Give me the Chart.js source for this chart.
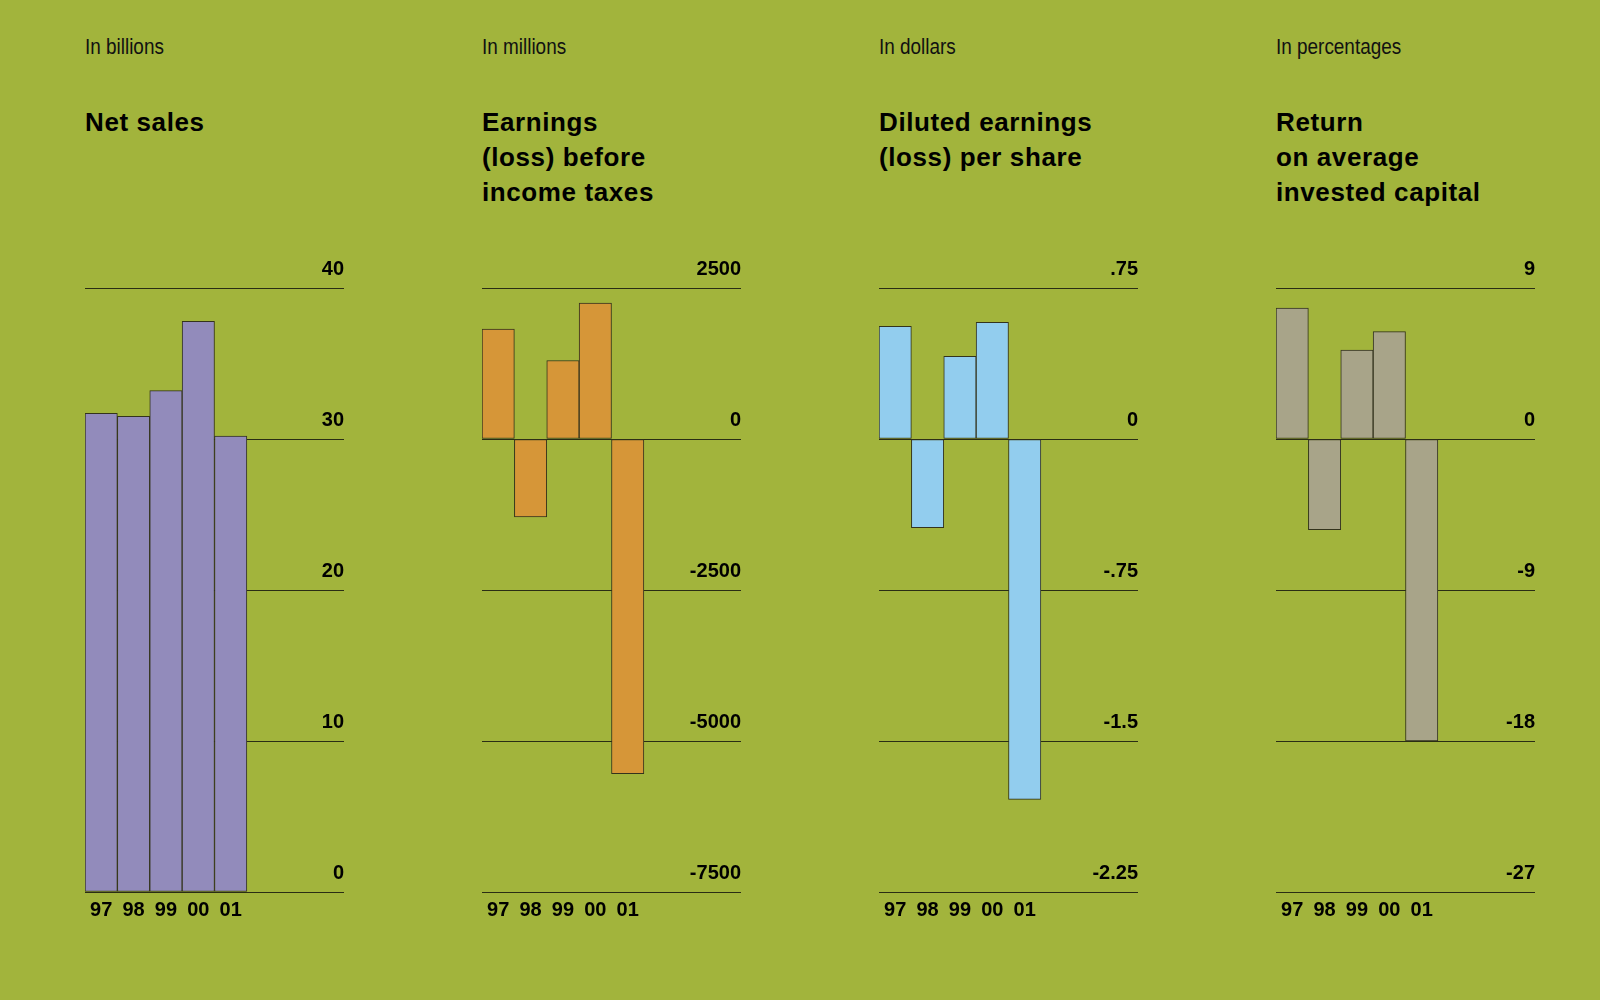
<!DOCTYPE html>
<html>
<head>
<meta charset="utf-8">
<script src="https://cdn.jsdelivr.net/npm/chart.js@4.4.1/dist/chart.umd.min.js"></script>
<style>
body{margin:0;background:#a2b43c;width:1600px;height:1000px;overflow:hidden;font-family:'Liberation Sans',Arial,sans-serif;}
.panel{position:absolute;top:0;width:390px;height:1000px;}
.unit{position:absolute;top:36px;left:0;font-size:22px;line-height:22px;color:#111;white-space:nowrap;transform:scaleX(0.86);transform-origin:left top;}
.title{position:absolute;top:105px;left:0;font-weight:bold;font-size:26px;line-height:35px;letter-spacing:0.6px;color:#000;white-space:nowrap;}
canvas{position:absolute;left:-5px;top:251px;}
</style>
</head>
<body>

<div class="panel" style="left:85px">
  <div class="unit">In billions</div>
  <div class="title">Net sales</div>
  <canvas id="c1" width="270" height="679"></canvas>
</div>
<div class="panel" style="left:482px">
  <div class="unit">In millions</div>
  <div class="title">Earnings<br>(loss) before<br>income taxes</div>
  <canvas id="c2" width="270" height="679"></canvas>
</div>
<div class="panel" style="left:879px">
  <div class="unit">In dollars</div>
  <div class="title">Diluted earnings<br>(loss) per share</div>
  <canvas id="c3" width="270" height="679"></canvas>
</div>
<div class="panel" style="left:1276px">
  <div class="unit">In percentages</div>
  <div class="title">Return<br>on average<br>invested capital</div>
  <canvas id="c4" width="270" height="679"></canvas>
</div>

<script>
// years shown, plus empty slots on the right of each chart
const years = ['97', '98', '99', '00', '01'];
const blanks = ['', '', ''];

const netSales = [31.7, 31.5, 33.2, 37.8, 30.2];
const earnings = [1820, -1290, 1300, 2250, -5540];
const dilutedEps = [0.56, -0.44, 0.41, 0.58, -1.79];
const returnCapital = [7.8, -5.4, 5.3, 6.4, -18];

const salesTicks = [0, 10, 20, 30, 40];
const earningsTicks = [-7500, -5000, -2500, 0, 2500];
const epsTicks = [-2.25, -1.5, -0.75, 0, 0.75];
const returnTicks = [-27, -18, -9, 0, 9];

const tickFont = "'Liberation Sans', Arial, sans-serif";

function drawPanel(id, values, color, ticks, fmt) {
    const ctx = document.getElementById(id).getContext('2d');
    new Chart(ctx, {
        type: 'bar',
        data: {
            labels: years.concat(blanks),
            datasets: [{
                data: values,
                backgroundColor: color,
                borderColor: '#33331c',
                borderWidth: 1,
                borderSkipped: false,
                barPercentage: 1,
                categoryPercentage: 1
            }]
        },
        options: {
            responsive: false,
            animation: false,
            devicePixelRatio: 1,
            layout: { padding: { left: 5, top: 37, right: 6, bottom: 0 } },
            plugins: { legend: { display: false }, tooltip: { enabled: false } },
            scales: {
                x: {
                    grid: { display: false, drawTicks: false },
                    border: { display: false },
                    ticks: {
                        color: '#000', padding: 6, maxRotation: 0, autoSkip: false,
                        font: { family: tickFont, weight: 'bold', size: 20 }
                    },
                    afterFit: s => { s.height = 38; }
                },
                y: {
                    position: 'right',
                    min: ticks[0],
                    max: ticks[ticks.length - 1],
                    border: { display: false },
                    grid: { color: '#2a2d14', lineWidth: 1, drawTicks: false },
                    ticks: {
                        stepSize: ticks[1] - ticks[0],
                        mirror: true, padding: 0, labelOffset: -19,
                        color: '#000',
                        font: { family: tickFont, weight: 'bold', size: 20 },
                        callback: fmt
                    },
                    afterFit: s => { s.width = 0; }
                }
            }
        }
    });
}

drawPanel('c1', netSales, '#928bbb', salesTicks, v => String(v));
drawPanel('c2', earnings, '#d69638', earningsTicks, v => String(v));
drawPanel('c3', dilutedEps, '#92cdee', epsTicks, v => String(v).replace('0.', '.'));
drawPanel('c4', returnCapital, '#a8a489', returnTicks, v => String(v));
</script>
</body>
</html>
